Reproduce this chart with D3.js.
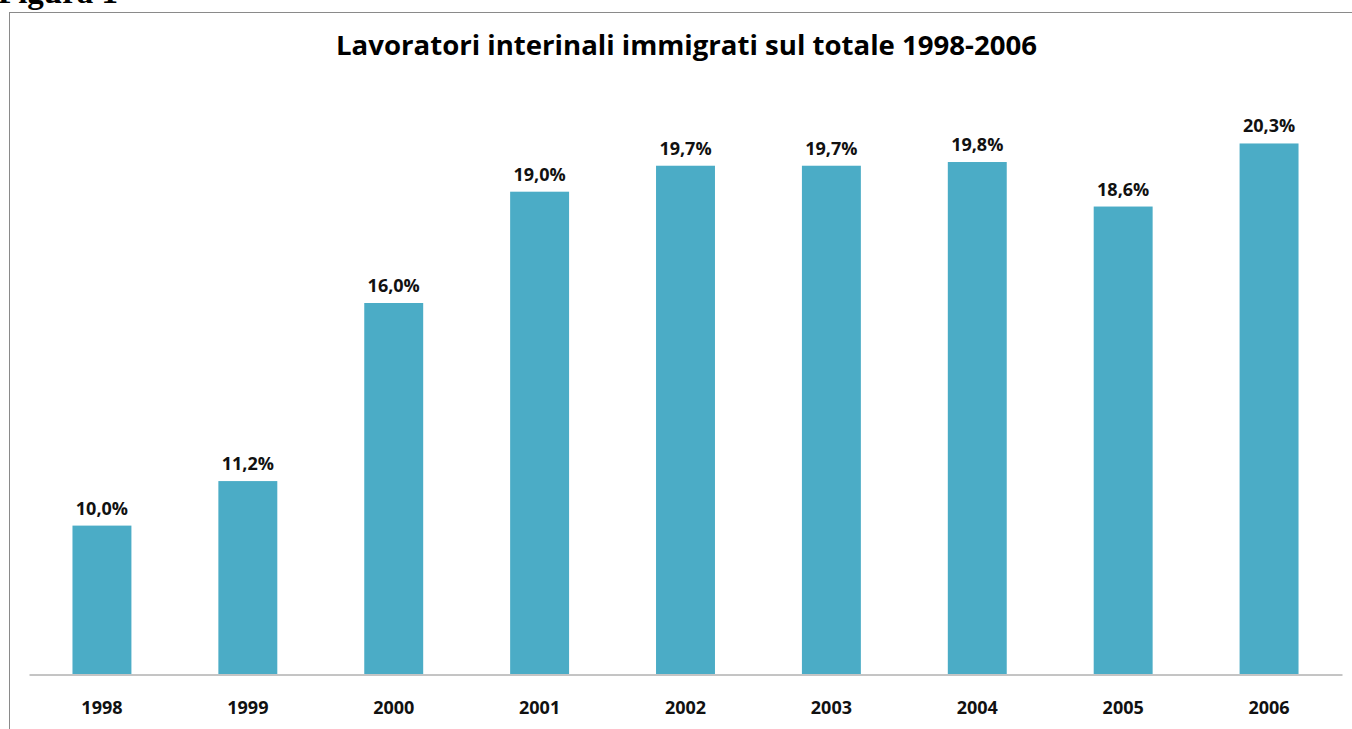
<!doctype html>
<html>
  <head>
    <meta charset="utf-8">
    <title>Lavoratori interinali immigrati sul totale 1998-2006</title>
    <script src="https://cdnjs.cloudflare.com/ajax/libs/d3/7.8.5/d3.min.js"></script>
    <style>
      body { margin: 0; background: #fff; }
      svg { display: block; }
    </style>
  </head>
  <body>
    <div id="chart"></div>
    <script>
      // data
      const years = ['1998', '1999', '2000', '2001', '2002', '2003', '2004', '2005', '2006'];
      const shares = [10.0, 11.2, 16.0, 19.0, 19.7, 19.7, 19.8, 18.6, 20.3];
      const labels = ['10,0%', '11,2%', '16,0%', '19,0%', '19,7%', '19,7%', '19,8%', '18,6%', '20,3%'];

      const W = 1352, H = 729;
      const svg = d3.select('#chart').append('svg')
        .attr('width', W)
        .attr('height', H);

      // caption cut at the top of the page (as in the source scan)
      svg.append('text')
        .attr('x', -2)
        .attr('y', 3)
        .text('Figura 1')
        .style('font-family', '"Liberation Serif", serif')
        .style('font-weight', 'bold')
        .style('font-size', '33px');

      // chart frame (runs off the right and bottom edges)
      svg.append('rect')
        .attr('x', 9.5)
        .attr('y', 12.5)
        .attr('width', W + 20)
        .attr('height', H + 20)
        .attr('fill', 'none')
        .attr('stroke', '#8a8a8a')
        .attr('stroke-width', 1);

      // title
      svg.append('text')
        .attr('x', 686.5)
        .attr('y', 55)
        .attr('text-anchor', 'middle')
        .attr('textLength', 701)
        .attr('lengthAdjust', 'spacingAndGlyphs')
        .text('Lavoratori interinali immigrati sul totale 1998-2006')
        .style('font-family', '"Open Sans", sans-serif')
        .style('font-weight', 'bold')
        .style('font-size', '26px');

      // scales
      const x = d3.scaleBand().domain(years).range([29, 1342]).paddingInner(0.596).paddingOuter(0.298);
      const y = d3.scaleLinear().domain([6, 22]).range([674, 80.4]);

      // bars
      svg.selectAll('rect.bar')
        .data(shares)
        .join('rect')
        .attr('class', 'bar')
        .attr('x', (d, i) => x(years[i]))
        .attr('y', d => y(d))
        .attr('width', x.bandwidth())
        .attr('height', d => y(6) - y(d))
        .style('fill', '#4bacc6');

      // value labels
      svg.selectAll('text.val')
        .data(shares)
        .join('text')
        .attr('class', 'val')
        .attr('x', (d, i) => x(years[i]) + x.bandwidth() / 2)
        .attr('y', d => y(d) - 11)
        .attr('text-anchor', 'middle')
        .text((d, i) => labels[i])
        .style('font-family', '"Open Sans", sans-serif')
        .style('font-weight', 'bold')
        .style('font-size', '18px')
        .style('fill', '#111');

      // x axis
      const xAxis = svg.append('g')
        .attr('transform', 'translate(0,674.5)')
        .call(d3.axisBottom(x).tickSize(0).tickPadding(27));
      xAxis.select('.domain').attr('stroke', '#8a8a8a');
      xAxis.selectAll('text')
        .style('font-family', '"Open Sans", sans-serif')
        .style('font-weight', 'bold')
        .style('font-size', '18px')
        .style('fill', '#111');
    </script>
  </body>
</html>
